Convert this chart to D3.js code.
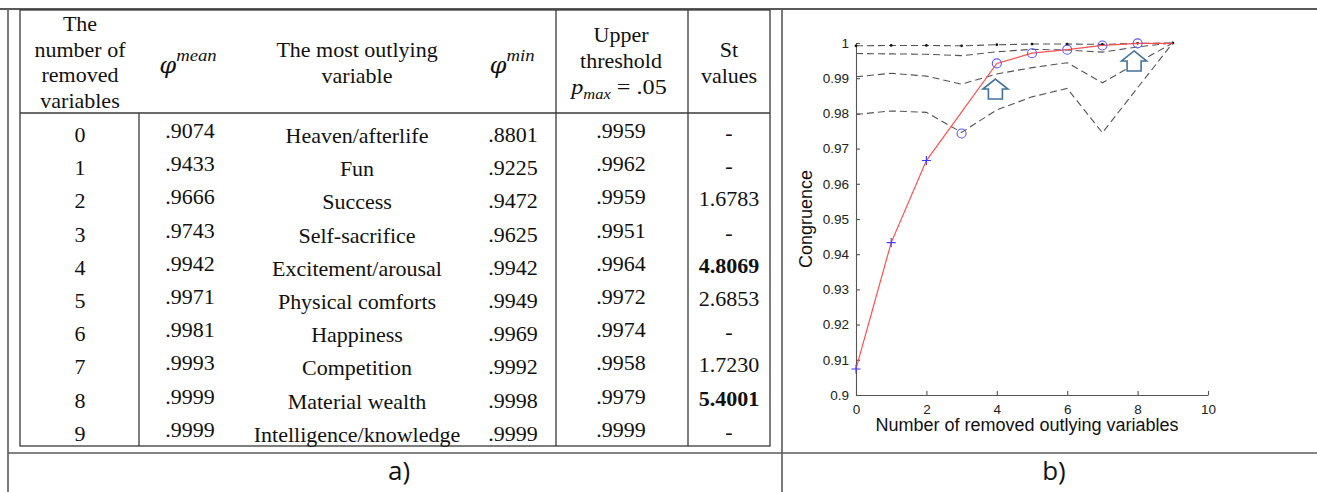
<!DOCTYPE html>
<html>
<head>
<meta charset="utf-8">
<script src="https://cdn.jsdelivr.net/npm/d3@7"></script>
<style>
  html, body { margin: 0; padding: 0; background: #fff; }
  svg { display: block; }
</style>
</head>
<body>
<svg id="fig" width="1317" height="492"></svg>
<script>
// ---- Table values (panel a) ----
const removedCounts = [0, 1, 2, 3, 4, 5, 6, 7, 8, 9];
const phiMean = [0.9074, 0.9433, 0.9666, 0.9743, 0.9942, 0.9971, 0.9981, 0.9993, 0.9999, 0.9999];
const outlyingVariables = ["Heaven/afterlife", "Fun", "Success", "Self-sacrifice", "Excitement/arousal",
  "Physical comforts", "Happiness", "Competition", "Material wealth", "Intelligence/knowledge"];
const phiMin = [0.8801, 0.9225, 0.9472, 0.9625, 0.9942, 0.9949, 0.9969, 0.9992, 0.9998, 0.9999];
const upperThreshold = [0.9959, 0.9962, 0.9959, 0.9951, 0.9964, 0.9972, 0.9974, 0.9958, 0.9979, 0.9999];
const stValues = ["-", "-", "1.6783", "-", "4.8069", "2.6853", "-", "1.7230", "5.4001", "-"];
const significantSteps = [4, 8];

// ---- Curve values (panel b) ----
const meanCurveSteps = [0, 1, 2, 4, 5, 6, 7, 8, 9];
const plusMarkerSteps = [0, 1, 2];
const circleMarkerSteps = [3, 4, 5, 6, 7, 8];
const simBand1 = [0.9992, 0.9993, 0.9993, 0.9992, 0.9995, 0.9997, 0.9997, 0.9996, 0.9999, 1.0];
const simBand2 = [0.9970, 0.9969, 0.9968, 0.9964, 0.9975, 0.9982, 0.9980, 0.9974, 0.9989, 1.0];
const simBand3 = [0.9904, 0.9914, 0.9906, 0.9883, 0.9912, 0.9930, 0.9944, 0.9887, 0.9944, 1.0];
const simBand4 = [0.9797, 0.9807, 0.9803, 0.9746, 0.9810, 0.9847, 0.9871, 0.9745, 0.9873, 1.0];
const xTicks = [0, 2, 4, 6, 8, 10];
const yTicks = [0.9, 0.91, 0.92, 0.93, 0.94, 0.95, 0.96, 0.97, 0.98, 0.99, 1.0];
const yTickLabels = ["0.9", "0.91", "0.92", "0.93", "0.94", "0.95", "0.96", "0.97", "0.98", "0.99", "1"];

const svg = d3.select("#fig");
const fmt4 = v => d3.format(".4f")(v).replace(/^0/, "");

// ---------- frame ----------
const frame = svg.append("g").attr("stroke", "#5a5a5a").attr("stroke-width", 1.6).attr("fill", "none");
frame.append("line").attr("x1", 0).attr("x2", 1317).attr("y1", 9).attr("y2", 9).attr("stroke-width", 2);
frame.append("line").attr("x1", 8).attr("x2", 8).attr("y1", 9).attr("y2", 492);
frame.append("line").attr("x1", 782).attr("x2", 782).attr("y1", 9).attr("y2", 492);
frame.append("line").attr("x1", 8).attr("x2", 1317).attr("y1", 453).attr("y2", 453);

// ---------- table (panel a) ----------
const tbl = svg.append("g");
const grid = tbl.append("g").attr("stroke", "#3a3a3a").attr("stroke-width", 1.3).attr("fill", "none");
grid.append("rect").attr("x", 20).attr("y", 10).attr("width", 750).attr("height", 436);
grid.append("line").attr("x1", 20).attr("x2", 770).attr("y1", 113).attr("y2", 113);
grid.append("line").attr("x1", 139).attr("x2", 139).attr("y1", 113).attr("y2", 446);
grid.append("line").attr("x1", 556).attr("x2", 556).attr("y1", 10).attr("y2", 446);
grid.append("line").attr("x1", 688).attr("x2", 688).attr("y1", 10).attr("y2", 446);

const serif = "'Liberation Serif', 'Times New Roman', serif";
const mathSerif = "'DejaVu Serif', serif";
function cellText(x, y, size) {
  return tbl.append("text")
    .attr("transform", `translate(${x},${y}) scale(1.1,1)`)
    .attr("text-anchor", "middle")
    .attr("font-family", serif)
    .attr("font-size", size || 20)
    .attr("fill", "#111");
}

// header
["The", "number of", "removed", "variables"].forEach((t, i) => cellText(80, 31 + i * 25.6).text(t));
["The most outlying", "variable"].forEach((t, i) => cellText(357, 57 + i * 25.5).text(t));
["Upper", "threshold"].forEach((t, i) => cellText(621, 42 + i * 25.5).text(t));
["St", "values"].forEach((t, i) => cellText(729, 57 + i * 25.5).text(t));

function phiHeader(x, sup) {
  const t = cellText(x, 73, 22).attr("font-family", mathSerif);
  t.append("tspan").attr("font-style", "italic").text("φ");
  t.append("tspan").attr("font-style", "italic").attr("font-size", 15).attr("dy", -12)
    .attr("font-family", serif).attr("font-size", 17).text(sup);
}
phiHeader(188, "mean");
phiHeader(512, "min");

const pm = cellText(619, 94, 22);
pm.append("tspan").attr("font-style", "italic").text("p");
pm.append("tspan").attr("font-style", "italic").attr("font-size", 15).attr("dy", 5).text("max");
pm.append("tspan").attr("dy", -5).text(" = .05");

// body rows
const rowY = d3.scalePoint().domain(removedCounts).range([142, 440.8]);
removedCounts.forEach((k, i) => {
  const yb = rowY(k);
  cellText(80, yb).text(k);
  cellText(190, yb - 4).text(fmt4(phiMean[i]));
  cellText(357, yb + 1).text(outlyingVariables[i]);
  cellText(513, yb).text(fmt4(phiMin[i]));
  cellText(621, yb - 4).text(fmt4(upperThreshold[i]));
  cellText(729, yb - 2)
    .attr("font-weight", significantSteps.includes(k) ? "bold" : "normal")
    .text(stValues[i]);
});

// ---------- chart (panel b) ----------
const x = d3.scaleLinear().domain([0, 10]).range([856, 1208]);
const y = d3.scaleLinear().domain([0.9, 1]).range([395, 43]);
const chart = svg.append("g");
const sans = "'Liberation Sans', Arial, sans-serif";

const xAxis = chart.append("g").attr("transform", "translate(0,395)")
  .call(d3.axisBottom(x).tickValues(xTicks).tickFormat(d3.format("d"))
    .tickSizeInner(-4).tickSizeOuter(0).tickPadding(9));
const yAxis = chart.append("g").attr("transform", "translate(856,0)")
  .call(d3.axisLeft(y).tickValues(yTicks).tickFormat((d, i) => yTickLabels[i])
    .tickSizeInner(-4).tickSizeOuter(0).tickPadding(7));
[xAxis, yAxis].forEach(a => {
  a.selectAll("path, line").attr("stroke", "#555").attr("stroke-width", 1.1);
  a.selectAll("text").attr("font-family", sans).attr("font-size", 13.5).attr("fill", "#222");
});

const line = d3.line().x(d => x(d[0])).y(d => y(d[1]));
const bands = [simBand1, simBand2, simBand3, simBand4];
bands.forEach(b => {
  chart.append("path")
    .attr("d", line(removedCounts.map((k, i) => [k, b[i]])))
    .attr("fill", "none").attr("stroke", "#555").attr("stroke-width", 1.1)
    .attr("stroke-dasharray", "7,4");
});
chart.append("g").selectAll("circle").data(removedCounts).join("circle")
  .attr("cx", k => x(k)).attr("cy", (k, i) => y(simBand1[i])).attr("r", 1.4).attr("fill", "#111");

chart.append("path")
  .attr("d", line(meanCurveSteps.map(k => [k, phiMean[k]])))
  .attr("fill", "none").attr("stroke", "#ff5050").attr("stroke-width", 1.2);

chart.append("g").selectAll("path").data(plusMarkerSteps).join("path")
  .attr("d", k => {
    const cx = x(k), cy = y(phiMean[k]);
    return `M${cx - 4.5},${cy}H${cx + 4.5}M${cx},${cy - 4.5}V${cy + 4.5}`;
  })
  .attr("stroke", "#3a3aff").attr("stroke-width", 1.1).attr("fill", "none");
chart.append("g").selectAll("circle").data(circleMarkerSteps).join("circle")
  .attr("cx", k => x(k)).attr("cy", k => y(phiMean[k])).attr("r", 4.5)
  .attr("stroke", "#5a5aff").attr("stroke-width", 1.1).attr("fill", "none");

// hollow up-arrows marking the significant removals
function upArrow(cx, tipY) {
  const hw = 12.5, sw = 7, hh = 10, total = 20;
  return `M${cx},${tipY}L${cx + hw},${tipY + hh}H${cx + sw}V${tipY + total}H${cx - sw}V${tipY + hh}H${cx - hw}Z`;
}
chart.append("path").attr("d", upArrow(x(3.96), y(0.98977)))
  .attr("fill", "#fff").attr("stroke", "#41719c").attr("stroke-width", 1.6);
chart.append("path").attr("d", upArrow(x(7.9), y(0.99773)))
  .attr("fill", "#fff").attr("stroke", "#41719c").attr("stroke-width", 1.6);

chart.append("text")
  .attr("transform", "translate(812,219) rotate(-90)")
  .attr("text-anchor", "middle").attr("font-family", sans).attr("font-size", 18).attr("fill", "#111")
  .text("Congruence");
chart.append("text")
  .attr("x", 1027).attr("y", 431)
  .attr("text-anchor", "middle").attr("font-family", sans).attr("font-size", 18).attr("fill", "#111")
  .text("Number of removed outlying variables");

// panel captions
svg.append("text").attr("x", 399).attr("y", 480).attr("text-anchor", "middle")
  .attr("font-family", "'Open Sans', sans-serif").attr("font-size", 26).attr("fill", "#111").text("a)");
svg.append("text").attr("x", 1054).attr("y", 480).attr("text-anchor", "middle")
  .attr("font-family", "'Open Sans', sans-serif").attr("font-size", 26).attr("fill", "#111").text("b)");
</script>
</body>
</html>
